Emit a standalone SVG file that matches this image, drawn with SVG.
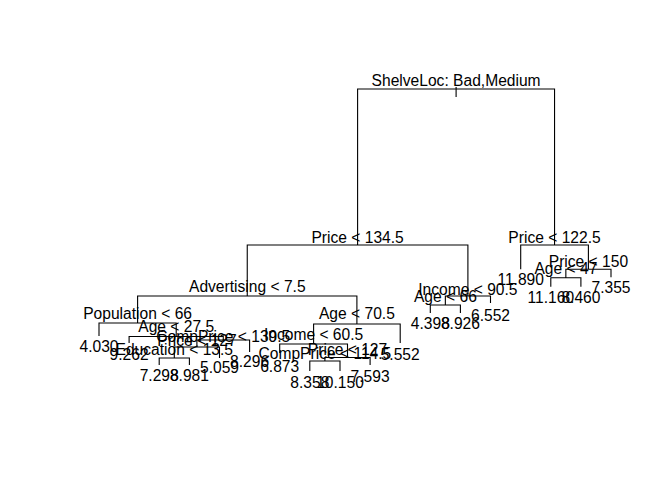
<svg xmlns="http://www.w3.org/2000/svg" width="672" height="480" viewBox="0 0 672 480">
<style>
text{font-family:"Liberation Sans",Arial,sans-serif;font-size:15.6px;fill:#000;text-anchor:middle}
.e{fill:none;stroke:#000;stroke-width:1.1}
</style>
<rect width="672" height="480" fill="#fff"/>
<g id="connectors" class="e">
<path class="e" d="M456.1,87V97 M357.6,245V89H554.55V245 M247.25,296V245H467.9V296 M554.55,245 M520.7,269.3V245H588.4V269.3 M565.85,277.7V269.3H611V277.3 M550.8,286.7V277.7H580.9V286.7 M445.35,305V296H490.5V303 M430.3,313V305H460.4V313 M137.6,323V296H356.9V324 M99,336V323H176.2V336.5 M129.1,343V336.5H223.25V340 M196.9,347V340H249.6V352 M174.3,358V347H219.5V358 M159.2,365V358H189.4V365 M313.6,344V324H400.2V343 M279.7,353V344H347.5V357.5 M324.9,361V357.5H370.1V365 M309.8,371V361H340V371"/>
</g>
<g id="n-root"><text x="456.1" y="86">ShelveLoc: Bad,Medium</text></g>
<g id="n-price134"><text x="357.6" y="242.5">Price &lt; 134.5</text></g>
<g id="n-price122"><text x="554.5" y="242.5">Price &lt; 122.5</text></g>
<g id="n-advertising"><text x="247.3" y="291.5">Advertising &lt; 7.5</text></g>
<g id="n-income90"><text x="467.9" y="294.5">Income &lt; 90.5</text></g>
<g id="n-population"><text x="137.6" y="318.5">Population &lt; 66</text></g>
<g id="n-age70"><text x="356.9" y="318.5">Age &lt; 70.5</text></g>
<g id="n-age27"><text x="176.2" y="331.5">Age &lt; 27.5</text></g>
<g id="n-comp139"><text x="223.3" y="342">CompPrice &lt; 139.5</text></g>
<g id="n-price127a"><text x="196.9" y="346">Price &lt; 127</text></g>
<g id="n-education"><text x="174.3" y="355">Education &lt; 13.5</text></g>
<g id="n-income60"><text x="313.6" y="340">Income &lt; 60.5</text></g>
<g id="n-price127b"><text x="347.5" y="355">Price &lt; 127</text></g>
<g id="n-comp114"><text x="324.9" y="358.5">CompPrice &lt; 114.5</text></g>
<g id="n-age66"><text x="445.4" y="301.5">Age &lt; 66</text></g>
<g id="n-price150"><text x="588.4" y="266.5">Price &lt; 150</text></g>
<g id="n-age47"><text x="565.9" y="274">Age &lt; 47</text></g>
<g id="leaves">
<text x="99" y="352">4.030</text>
<text x="129.1" y="360">9.262</text>
<text x="159.2" y="381">7.298</text>
<text x="189.4" y="381">8.981</text>
<text x="219.5" y="373">5.059</text>
<text x="249.6" y="367">8.296</text>
<text x="279.7" y="371.5">6.873</text>
<text x="309.8" y="387.5">8.358</text>
<text x="340" y="387.5">10.150</text>
<text x="370.1" y="382">7.593</text>
<text x="400.2" y="359.5">5.552</text>
<text x="430.3" y="328.5">4.398</text>
<text x="460.4" y="328.5">8.926</text>
<text x="490.5" y="321">6.552</text>
<text x="520.7" y="285">11.890</text>
<text x="550.8" y="302.5">11.160</text>
<text x="580.9" y="302.5">8.460</text>
<text x="611" y="293">7.355</text>
</g>
</svg>
